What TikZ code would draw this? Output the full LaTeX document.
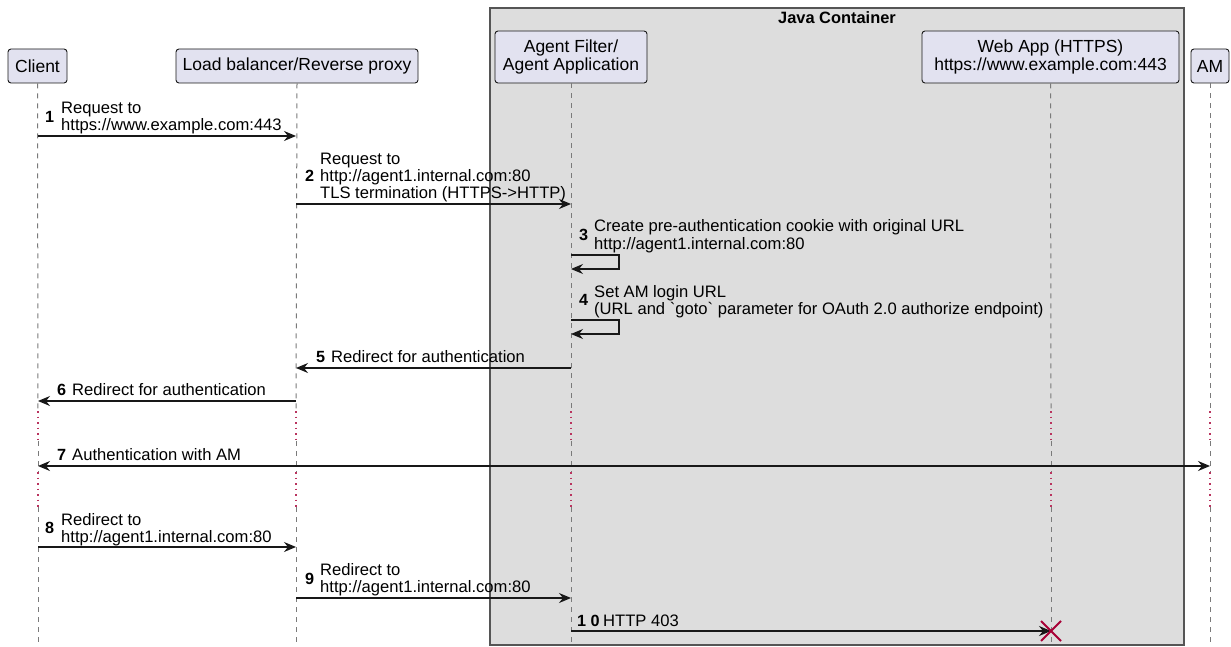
\documentclass[tikz,border=0pt]{standalone}
\usepackage{fontspec}
\setmainfont{Liberation Sans}
\usetikzlibrary{arrows.meta,calc}
\definecolor{hdrfill}{HTML}{E2E2F0}
\definecolor{hdrline}{HTML}{181818}
\definecolor{boxfill}{HTML}{DDDDDD}
\definecolor{boxline}{HTML}{555555}
\definecolor{lifegray}{HTML}{7A7A7A}
\definecolor{dotred}{HTML}{A80036}
\tikzset{
  hdr/.style={draw=hdrline, fill=hdrfill, rounded corners=3pt, line width=0.9pt, inner sep=0pt, align=center, font=\fontsize{17.5}{18.5}\selectfont},
  life/.style={draw=lifegray, line width=1pt, dash pattern=on 5pt off 5pt},
  delay/.style={draw=dotred!80, line width=1.1pt, dash pattern=on 1.5pt off 4pt},
  msg/.style={draw=hdrline, line width=1.2pt, -{Stealth[length=12pt,width=10pt,inset=4pt]}},
  msgboth/.style={draw=hdrline, line width=1.2pt, {Stealth[length=12pt,width=10pt,inset=4pt]}-{Stealth[length=12pt,width=10pt,inset=4pt]}},
  txt/.style={anchor=base west, inner sep=0pt, font=\fontsize{16.6}{17}\selectfont},
  num/.style={anchor=base west, inner sep=0pt, font=\fontsize{16.2}{17}\selectfont\bfseries},
}
\begin{document}
\begin{tikzpicture}[x=1pt,y=-1pt]
\useasboundingbox (0,0) rectangle (1231,647);
\fill[white] (0,0) rectangle (1231,647);
% container
\draw[boxline, fill=boxfill, line width=1.2pt] (490,8) rectangle (1184,645);
\node[anchor=base, inner sep=0pt, font=\fontsize{16.4}{18}\selectfont\bfseries] (jc) at (837,24) {Java Container};
% headers
\node[hdr, minimum width=59pt, minimum height=34pt] (client) at (37.5,66) {Client};
\node[hdr, minimum width=242pt, minimum height=34pt] (lb) at (297,66) {Load balancer/Reverse proxy};
\node[hdr, minimum width=152pt, minimum height=52pt] (agent) at (571,57) {Agent Filter/\\Agent Application};
\node[hdr, minimum width=257pt, minimum height=52pt] (web) at (1050.5,57) {Web App (HTTPS)\\https://www.example.com:443};
\node[hdr, minimum width=38pt, minimum height=34pt] (am) at (1210,66) {AM};
% lifelines
\foreach \n/\x in {client/38, lb/296, agent/571, web/1051, am/1210}{
  \coordinate (\n d1) at (\x,411);
  \coordinate (\n d2) at (\x,441);
  \coordinate (\n d3) at (\x,472);
  \coordinate (\n d4) at (\x,507);
  \coordinate (\n end) at (\x,647);
  \draw[life] (\n.south) -- (\n d1);
  \draw[delay] (\n d1) -- (\n d2);
  \draw[life] (\n d2) -- (\n d3);
  \draw[delay] (\n d3) -- (\n d4);
  \draw[life] (\n d4) -- (\n end);
}
% message 1
\coordinate (m1a) at (38,136); \coordinate (m1b) at (296,136);
\draw[msg] (m1a) -- (m1b);
\node[num] (n1) at (45,122.5) {1};
\node[txt] (t1a) at (61,114) {Request to};
\node[txt] (t1b) at (61,131) {https://www.example.com:443};
% message 2
\coordinate (m2a) at (296,204); \coordinate (m2b) at (571,204);
\draw[msg] (m2a) -- (m2b);
\node[num] (n2) at (305,182) {2};
\node[txt] (t2a) at (320,165) {Request to};
\node[txt] (t2b) at (320,182) {http://agent1.internal.com:80};
\node[txt] (t2c) at (320,199) {TLS termination (HTTPS->HTTP)};
% message 3 (self)
\coordinate (m3a) at (571,255); \coordinate (m3b) at (571,269);
\draw[msg] (m3a) -- ++(48,0) |- (m3b);
\node[num] (n3) at (579,240.5) {3};
\node[txt] (t3a) at (594,232) {Create pre-authentication cookie with original URL};
\node[txt] (t3b) at (594,249) {http://agent1.internal.com:80};
% message 4 (self)
\coordinate (m4a) at (571,320); \coordinate (m4b) at (571,334);
\draw[msg] (m4a) -- ++(48,0) |- (m4b);
\node[num] (n4) at (579,305.5) {4};
\node[txt] (t4a) at (594,297) {Set AM login URL};
\node[txt] (t4b) at (594,314) {(URL and \textasciigrave goto\textasciigrave{} parameter for OAuth 2.0 authorize endpoint)};
% message 5
\coordinate (m5a) at (571,368); \coordinate (m5b) at (296,368);
\draw[msg] (m5a) -- (m5b);
\node[num] (n5) at (316,362) {5};
\node[txt] (t5) at (331,362) {Redirect for authentication};
% message 6
\coordinate (m6a) at (296,401); \coordinate (m6b) at (38,401);
\draw[msg] (m6a) -- (m6b);
\node[num] (n6) at (57,395) {6};
\node[txt] (t6) at (72,395) {Redirect for authentication};
% message 7
\coordinate (m7a) at (38,466); \coordinate (m7b) at (1210,466);
\draw[msgboth] (m7a) -- (m7b);
\node[num] (n7) at (57,460) {7};
\node[txt] (t7) at (72,460) {Authentication with AM};
% message 8
\coordinate (m8a) at (38,547); \coordinate (m8b) at (296,547);
\draw[msg] (m8a) -- (m8b);
\node[num] (n8) at (45,533.5) {8};
\node[txt] (t8a) at (61,525) {Redirect to};
\node[txt] (t8b) at (61,542) {http://agent1.internal.com:80};
% message 9
\coordinate (m9a) at (296,598); \coordinate (m9b) at (571,598);
\draw[msg] (m9a) -- (m9b);
\node[num] (n9) at (305,584.5) {9};
\node[txt] (t9a) at (320,575) {Redirect to};
\node[txt] (t9b) at (320,592) {http://agent1.internal.com:80};
% message 10
\coordinate (m10a) at (571,631); \coordinate (m10b) at (1051,631);
\draw[msg] (m10a) -- (m10b);
\node[num] (n10) at (577,626) {1 0};
\node[txt] (t10) at (603,626) {HTTP 403};
\draw[dotred, line width=2pt] ($(m10b)+(-10,-10)$) -- ($(m10b)+(10,10)$)
  ($(m10b)+(-10,10)$) -- ($(m10b)+(10,-10)$);
\end{tikzpicture}
\end{document}
